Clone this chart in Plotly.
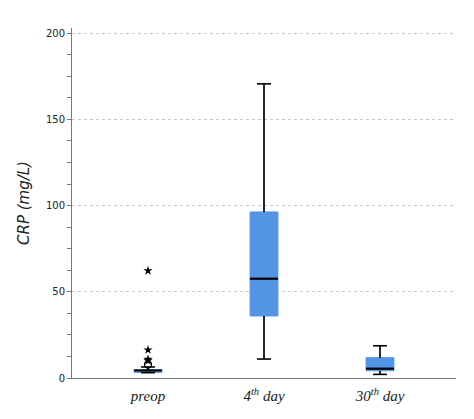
import plotly.graph_objects as go

# ---- data ----
categories = ["preop", "4th day", "30th day"]
tick_labels = ["<i>preop</i>", "<i>4<sup>th</sup> day</i>", "<i>30<sup>th</sup> day</i>"]
q1 = [3.3, 36.0, 4.2]
median = [4.4, 57.6, 5.4]
q3 = [4.7, 96.3, 11.8]
lower_whisker = [3.1, 11.0, 2.1]
upper_whisker = [6.4, 170.6, 18.7]

# preop outliers
outlier_circle = [7.8]
outlier_star = [10.0, 10.8, 16.3, 62.2]

BLUE = "#5394E4"
positions = list(range(len(categories)))
box_width = 0.24
cap_half = 0.06

fig = go.Figure()

fig.add_trace(go.Box(
    x=positions, q1=q1, median=median, q3=q3,
    lowerfence=lower_whisker, upperfence=upper_whisker,
    width=box_width, fillcolor=BLUE,
    line=dict(color=BLUE, width=1),
    whiskerwidth=0, boxpoints=False, showlegend=False, hoverinfo="skip",
))

# whiskers with caps (black)
wx, wy = [], []
for p, lo, a, b, hi in zip(positions, lower_whisker, q1, q3, upper_whisker):
    wx += [p, p, None, p - cap_half, p + cap_half, None]
    wy += [b, hi, None, hi, hi, None]
    wx += [p, p, None, p - cap_half, p + cap_half, None]
    wy += [a, lo, None, lo, lo, None]
fig.add_trace(go.Scatter(x=wx, y=wy, mode="lines",
                         line=dict(color="black", width=1.6),
                         showlegend=False, hoverinfo="skip"))

# medians (black)
mx, my = [], []
for p, m in zip(positions, median):
    mx += [p - box_width / 2, p + box_width / 2, None]
    my += [m, m, None]
fig.add_trace(go.Scatter(x=mx, y=my, mode="lines",
                         line=dict(color="black", width=2.2),
                         showlegend=False, hoverinfo="skip"))

# outliers
fig.add_trace(go.Scatter(x=[positions[0]] * len(outlier_circle), y=outlier_circle,
                         mode="markers",
                         marker=dict(symbol="circle-open", size=7, color="black",
                                     line=dict(width=1.3, color="black")),
                         showlegend=False, hoverinfo="skip"))
fig.add_trace(go.Scatter(x=[positions[0]] * len(outlier_star), y=outlier_star,
                         mode="markers",
                         marker=dict(symbol="star", size=7, color="black",
                                     line=dict(width=0)),
                         showlegend=False, hoverinfo="skip"))

# page body has an 8px margin, so the figure is sized/offset to compensate
fig.update_layout(
    width=466, height=411,
    margin=dict(l=64, r=18, t=20, b=41),
    paper_bgcolor="white", plot_bgcolor="white",
    font=dict(family="DejaVu Sans", color="black"),
)

fig.update_xaxes(
    range=[-0.655, 2.655], tickmode="array", tickvals=positions, ticktext=tick_labels,
    tickfont=dict(family="Liberation Serif", size=15, color="#222"),
    showgrid=False, zeroline=False, showline=True, linecolor="#777", linewidth=1,
    ticks="", ticklabelstandoff=4,
)
fig.update_yaxes(
    range=[0, 203], tickvals=[0, 50, 100, 150, 200],
    tickfont=dict(family="DejaVu Sans", size=10, color="#222"),
    title=dict(text="<i>CRP (mg/L)</i>", font=dict(family="DejaVu Sans", size=15, color="#222"),
               standoff=12),
    showgrid=True, gridcolor="#c8c8c8", griddash="3px,3px", gridwidth=1,
    zeroline=False, showline=True, linecolor="#777", linewidth=1,
    ticks="outside", ticklen=4, tickcolor="#777",
    minor=dict(dtick=12.5, ticks="outside", ticklen=4, tickcolor="#777", showgrid=False),
)

fig.write_html("out.html")
